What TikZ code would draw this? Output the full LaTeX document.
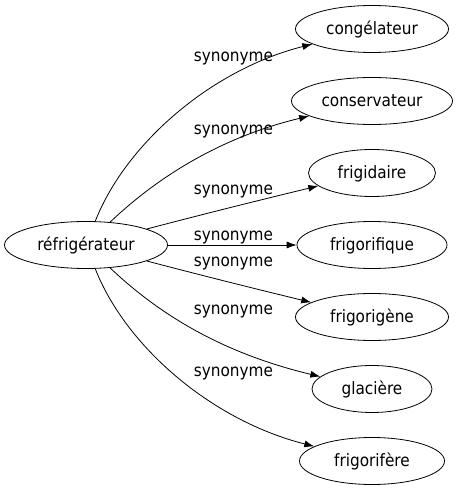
\documentclass[tikz,border=0pt]{standalone}
\usepackage{fontspec}
\setmainfont{DejaVu Sans Condensed}
\usetikzlibrary{shapes.geometric,arrows.meta}

\begin{document}
\begin{tikzpicture}[x=1pt,y=1pt]


\useasboundingbox (0,0) rectangle (458,491);
\tikzset{VertexStyle/.style = {draw, shape=ellipse, line width=.8pt, inner sep=0pt,
                               minimum height=47pt, text height=15pt, text depth=3pt,
                               font=\fontsize{17}{20}\selectfont},
         EdgeStyle/.style   = {line width=.8pt, -{Latex[length=10pt,width=7pt]}},
         LabelStyle/.style  = {anchor=base, inner sep=0pt, font=\fontsize{17}{20}\selectfont}}


\node[VertexStyle, minimum width=163pt] (0) at (86,246) {réfrigérateur};
\node[VertexStyle, minimum width=153pt] (1) at (372,462) {congélateur};
\node[VertexStyle, minimum width=161pt] (2) at (372,390) {conservateur};
\node[VertexStyle, minimum width=127pt] (3) at (372,318) {frigidaire};
\node[VertexStyle, minimum width=150pt] (4) at (372,246) {frigorifique};
\node[VertexStyle, minimum width=153pt] (5) at (372,174) {frigorigène};
\node[VertexStyle, minimum width=120pt] (6) at (372,102) {glacière};
\node[VertexStyle, minimum width=145pt] (7) at (372,30) {frigorifère};


\draw[EdgeStyle] (0) .. controls (125,346) and (210,421) .. (1);
\draw[EdgeStyle] (0) .. controls (165,321) and (230,356) .. (2);
\draw[EdgeStyle] (0) .. controls (200,276) and (260,291) .. (3);
\draw[EdgeStyle] (0) -- (4);
\draw[EdgeStyle] (0) .. controls (200,216) and (260,201) .. (5);
\draw[EdgeStyle] (0) .. controls (165,171) and (230,136) .. (6);
\draw[EdgeStyle] (0) .. controls (125,146) and (210,71) .. (7);

\node[LabelStyle] (s1) at (233.5,429) {synonyme};
\node[LabelStyle] (s2) at (233.5,356) {synonyme};
\node[LabelStyle] (s3) at (233.5,296) {synonyme};
\node[LabelStyle] (s4) at (233.5,250) {synonyme};
\node[LabelStyle] (s5) at (233.5,224) {synonyme};
\node[LabelStyle] (s6) at (233.5,176) {synonyme};
\node[LabelStyle] (s7) at (233.5,114) {synonyme};

\end{tikzpicture}
\end{document}
